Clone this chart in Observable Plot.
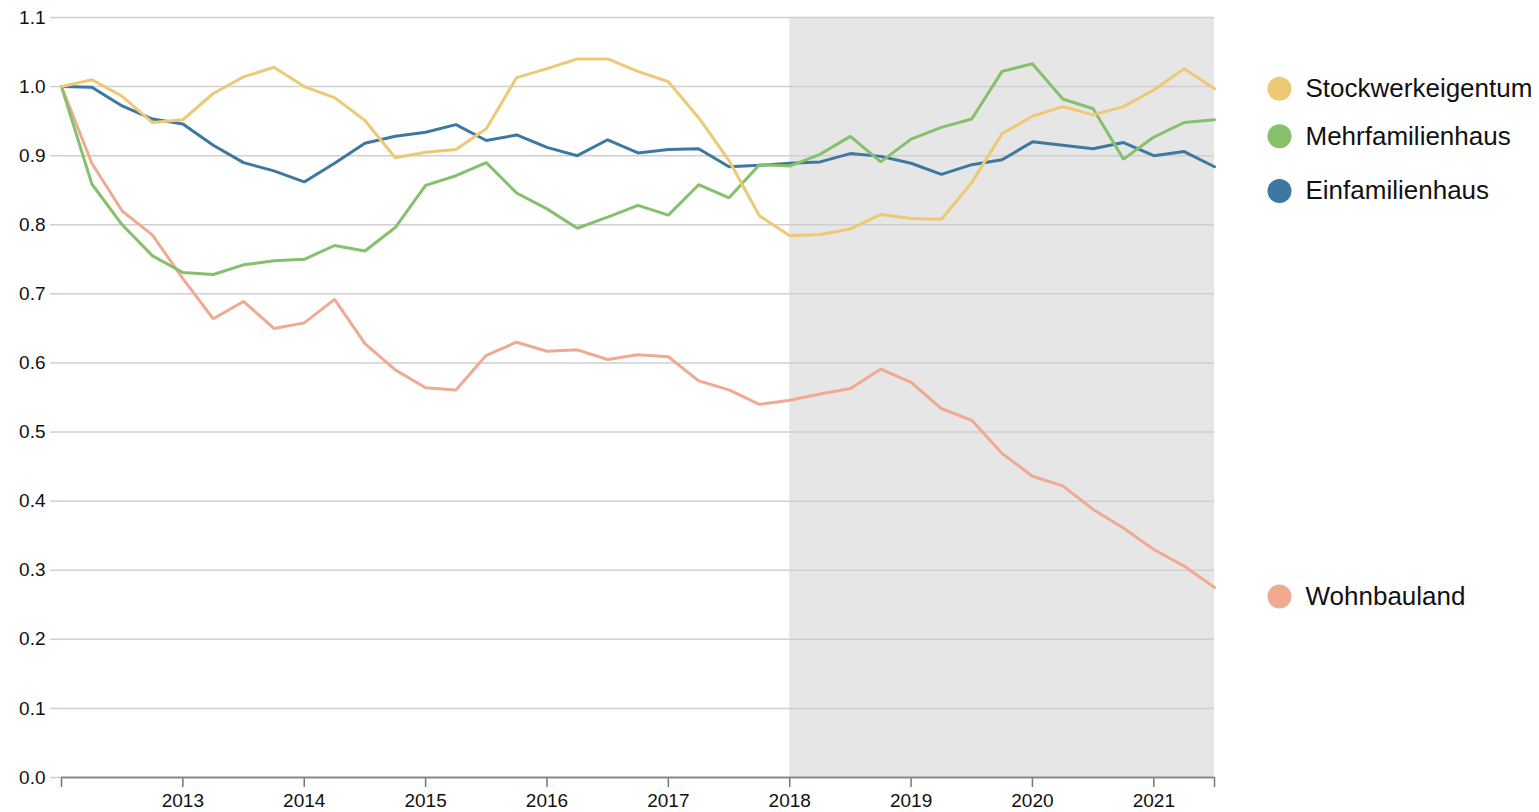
<!DOCTYPE html>
<html>
<head>
<meta charset="utf-8">
<script src="https://cdn.jsdelivr.net/npm/d3@7"></script>
<script src="https://cdn.jsdelivr.net/npm/@observablehq/plot@0.6"></script>
<style>
  html, body { margin: 0; padding: 0; background: #fff; }
  #chart svg { display: block; }
</style>
</head>
<body>
<div id="chart"></div>
<script>
// Quarterly index values, 2012 Q1 … 2021 Q3 (first quarter = 1.0)
const startYear = 2012;
const seriesNames = ["Stockwerkeigentum", "Mehrfamilienhaus", "Einfamilienhaus", "Wohnbauland"];
const seriesColors = ["#edc976", "#86c06b", "#3d78a0", "#f0aa91"];

const stockwerkeigentum = [1.000, 1.010, 0.986, 0.948, 0.952, 0.990, 1.014, 1.028, 1.000, 0.984, 0.951, 0.897, 0.905, 0.909, 0.939, 1.013, 1.026, 1.040, 1.040, 1.022, 1.007, 0.955, 0.893, 0.813, 0.784, 0.786, 0.794, 0.815, 0.809, 0.808, 0.861, 0.932, 0.957, 0.971, 0.959, 0.971, 0.995, 1.026, 0.997];
const mehrfamilienhaus = [1.000, 0.859, 0.800, 0.755, 0.731, 0.728, 0.742, 0.748, 0.750, 0.770, 0.762, 0.796, 0.857, 0.871, 0.890, 0.846, 0.823, 0.795, 0.811, 0.828, 0.814, 0.858, 0.839, 0.887, 0.885, 0.902, 0.928, 0.891, 0.924, 0.941, 0.953, 1.022, 1.033, 0.982, 0.968, 0.895, 0.927, 0.948, 0.952];
const einfamilienhaus = [1.000, 0.999, 0.972, 0.953, 0.946, 0.915, 0.890, 0.878, 0.862, 0.889, 0.918, 0.928, 0.934, 0.945, 0.922, 0.930, 0.912, 0.900, 0.923, 0.904, 0.909, 0.910, 0.884, 0.886, 0.889, 0.891, 0.903, 0.899, 0.889, 0.873, 0.887, 0.894, 0.920, 0.915, 0.910, 0.919, 0.900, 0.906, 0.884];
const wohnbauland = [1.000, 0.889, 0.820, 0.785, 0.722, 0.664, 0.689, 0.650, 0.658, 0.692, 0.628, 0.590, 0.564, 0.561, 0.611, 0.630, 0.617, 0.619, 0.605, 0.612, 0.609, 0.574, 0.561, 0.540, 0.546, 0.555, 0.563, 0.591, 0.572, 0.534, 0.517, 0.469, 0.436, 0.422, 0.388, 0.361, 0.330, 0.306, 0.275];

// legend label levels (value units) next to line ends
const legendLevels = [0.997, 0.928, 0.849, 0.262];

// shaded forecast period and axis ticks
const shadeFrom = 2018;
const yTicks = [0, 0.1, 0.2, 0.3, 0.4, 0.5, 0.6, 0.7, 0.8, 0.9, 1.0, 1.1];
const xTickYears = [2013, 2014, 2015, 2016, 2017, 2018, 2019, 2020, 2021];

const allSeries = [stockwerkeigentum, mehrfamilienhaus, einfamilienhaus, wohnbauland];
const rows = [];
allSeries.forEach((vals, s) => {
  vals.forEach((v, i) => rows.push({series: seriesNames[s], t: startYear + i / 4, v}));
});
const endT = startYear + (stockwerkeigentum.length - 1) / 4;
const legend = seriesNames.map((name, k) => ({name, t: endT, v: legendLevels[k], color: seriesColors[k]}));

const drawOrder = ["Wohnbauland", "Einfamilienhaus", "Mehrfamilienhaus", "Stockwerkeigentum"];

const font = "'Liberation Sans', Arial, Helvetica, sans-serif";

const chart = Plot.plot({
  width: 1539,
  height: 812,
  marginTop: 17,
  marginBottom: 35,
  marginLeft: 61,
  marginRight: 325,
  style: {fontFamily: font, fontSize: "19px", color: "#111", background: "#fff", overflow: "visible"},
  x: {domain: [startYear, endT]},
  y: {domain: [0, 1.1]},
  color: {domain: seriesNames, range: seriesColors},
  marks: [
    Plot.rect([{x1: shadeFrom, x2: endT, y1: 0, y2: 1.1}], {x1: "x1", x2: "x2", y1: "y1", y2: "y2", fill: "#e6e6e6"}),
    Plot.gridY(yTicks.filter(d => d > 0), {stroke: "#cfcfcf", strokeOpacity: 1, strokeWidth: 1.5}),
    Plot.axisY({ticks: yTicks, tickFormat: d3.format(".1f"), tickSize: 11, tickPadding: 5, stroke: "#cfcfcf", strokeWidth: 1.5, label: null, fontSize: 19}),
    Plot.axisX({ticks: [startYear, ...xTickYears, endT], tickFormat: d => xTickYears.includes(d) ? String(d) : "", tickSize: 10, tickPadding: 6, stroke: "#777", strokeWidth: 1.5, label: null, fontSize: 19}),
    Plot.ruleY([0], {stroke: "#888", strokeWidth: 2}),
    ...drawOrder.map(name => Plot.line(rows.filter(r => r.series === name), {x: "t", y: "v", stroke: "series", strokeWidth: 3, strokeLinejoin: "miter"})),
    Plot.dot(legend, {x: "t", y: "v", fill: "color", r: 12, dx: 65}),
    Plot.text(legend, {x: "t", y: "v", text: "name", dx: 91, textAnchor: "start", fontSize: 26, fill: "#111"})
  ]
});
document.getElementById("chart").appendChild(chart);
</script>
</body>
</html>
